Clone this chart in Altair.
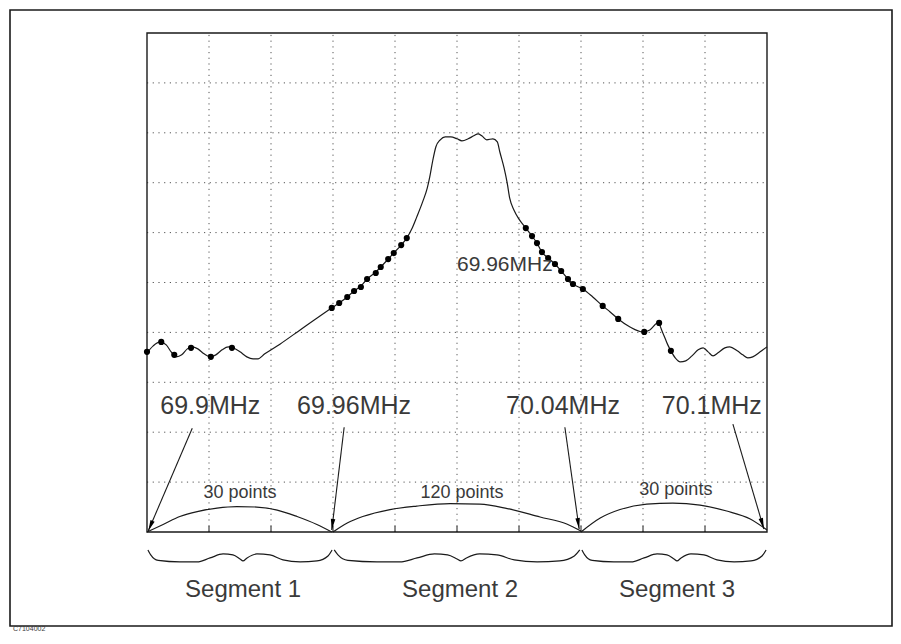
import math
import altair as alt
import pandas as pd

# ---------------- data (grid divisions: x 0..10, y 0..10) ----------------
trace_x = [0.00, 0.10, 0.21, 0.31, 0.39, 0.47, 0.56, 0.65, 0.73, 0.82, 0.92, 1.02, 1.11, 1.21,
           1.31, 1.39, 1.50, 1.61, 1.71, 1.79, 1.90, 2.15, 2.47, 2.79, 2.98, 3.10, 3.23, 3.34,
           3.45, 3.55, 3.69, 3.77, 3.89, 3.98, 4.10, 4.19, 4.27, 4.35, 4.45, 4.52, 4.56, 4.61,
           4.66, 4.73, 4.81, 4.90, 5.00, 5.08, 5.18, 5.27, 5.34, 5.40, 5.48, 5.58, 5.65, 5.69,
           5.76, 5.81, 5.85, 5.92, 6.00, 6.11, 6.21, 6.29, 6.37, 6.47, 6.58, 6.68, 6.79, 6.87,
           7.03, 7.19, 7.35, 7.47, 7.60, 7.79, 8.00, 8.11, 8.24, 8.32, 8.40, 8.45, 8.52, 8.60,
           8.69, 8.79, 8.89, 8.97, 9.05, 9.13, 9.21, 9.32, 9.40, 9.52, 9.61, 9.69, 9.77, 9.89, 10.00]
trace_y = [3.59, 3.73, 3.81, 3.75, 3.61, 3.51, 3.55, 3.67, 3.71, 3.67, 3.57, 3.51, 3.55, 3.65,
           3.71, 3.69, 3.61, 3.51, 3.47, 3.47, 3.57, 3.77, 4.05, 4.33, 4.49, 4.59, 4.71, 4.83,
           4.93, 5.07, 5.21, 5.31, 5.47, 5.59, 5.75, 5.89, 6.07, 6.31, 6.63, 6.89, 7.11, 7.45,
           7.72, 7.86, 7.92, 7.92, 7.88, 7.84, 7.88, 7.94, 7.98, 7.94, 7.86, 7.88, 7.82, 7.62,
           7.29, 6.99, 6.69, 6.45, 6.27, 6.09, 5.93, 5.79, 5.61, 5.49, 5.37, 5.23, 5.07, 4.97,
           4.87, 4.71, 4.53, 4.41, 4.27, 4.11, 4.01, 4.05, 4.19, 3.99, 3.75, 3.63, 3.49, 3.41,
           3.43, 3.53, 3.65, 3.69, 3.61, 3.53, 3.59, 3.69, 3.71, 3.63, 3.55, 3.49, 3.51, 3.61, 3.71]

dot_x = [0.00, 0.23, 0.44, 0.71, 1.03, 1.37,
         2.98, 3.10, 3.23, 3.34, 3.45, 3.55, 3.69, 3.77, 3.89, 3.98, 4.10, 4.19,
         6.11, 6.21, 6.29, 6.37, 6.47, 6.58, 6.68, 6.79, 6.87, 7.03,
         7.35, 7.60, 8.02, 8.26, 8.45]
dot_y = [3.61, 3.81, 3.55, 3.69, 3.51, 3.69,
         4.49, 4.59, 4.71, 4.83, 4.91, 5.07, 5.19, 5.31, 5.47, 5.59, 5.75, 5.89,
         6.09, 5.93, 5.79, 5.61, 5.49, 5.37, 5.23, 5.07, 4.97, 4.87,
         4.53, 4.27, 4.01, 4.19, 3.63]

seg_bounds = [0, 3, 7, 10]
freq_labels = ["69.9MHz", "69.96MHz", "70.04MHz", "70.1MHz"]
point_labels = ["30 points", "120 points", "30 points"]
segment_labels = ["Segment 1", "Segment 2", "Segment 3"]
marker_label = "69.96MHz"
doc_code = "C7104002"

arc_x = [[0.00, 0.26, 0.53, 0.81, 1.13, 1.45, 1.77, 2.10, 2.42, 2.74, 2.98],
         [3.00, 3.23, 3.48, 3.92, 4.35, 4.89, 5.37, 5.81, 6.34, 6.77, 7.00],
         [7.00, 7.31, 7.63, 8.06, 8.48, 8.92, 9.35, 9.73, 10.00]]
arc_y = [[0.00, 0.15, 0.31, 0.41, 0.48, 0.51, 0.50, 0.44, 0.31, 0.15, 0.00],
         [0.00, 0.18, 0.31, 0.45, 0.52, 0.57, 0.56, 0.47, 0.30, 0.16, 0.02],
         [0.00, 0.28, 0.45, 0.56, 0.58, 0.54, 0.42, 0.26, 0.04]]

brace_frac = [0.005, 0.02, 0.06, 0.177, 0.269, 0.339, 0.409, 0.462, 0.50, 0.516, 0.538,
              0.591, 0.661, 0.731, 0.823, 0.914, 0.973, 0.995]
brace_dy = [-0.36, -0.46, -0.57, -0.60, -0.60, -0.52, -0.44, -0.46, -0.54, -0.58, -0.52,
            -0.44, -0.46, -0.56, -0.60, -0.58, -0.48, -0.36]

arrow_from = [(0.73, 2.08), (3.18, 2.10), (6.74, 2.10), (9.45, 2.16)]
arrow_to = [(0.02, 0.02), (2.98, 0.04), (6.97, 0.06), (9.95, 0.06)]

# ---------------- layout ----------------
W, H = 885, 628
PXX, PXY = 62.0, 49.9          # pixels per division
X0, Y0 = 139.0, 524.0          # pixel position of the (0,0) division inside the chart
XDOM = [-X0 / PXX, (W - X0) / PXX]
YDOM = [-(H - Y0) / PXY, Y0 / PXY]

xs = alt.Scale(domain=XDOM, nice=False, zero=False)
ys = alt.Scale(domain=YDOM, nice=False, zero=False)
X = lambda f="x": alt.X(f"{f}:Q", scale=xs, axis=None)
Y = lambda f="y": alt.Y(f"{f}:Q", scale=ys, axis=None)

INK = "#1a1a1a"
FONT = "Liberation Sans"

layers = []

# outer frame
frame = pd.DataFrame({"x": [XDOM[0] + 2 / PXX], "x2": [XDOM[1] - 1 / PXX],
                      "y": [YDOM[1] - 2 / PXY], "y2": [YDOM[0] + 10 / PXY]})
layers.append(alt.Chart(frame).mark_rect(filled=False, stroke=INK, strokeWidth=1.6).encode(
    x=X(), x2="x2", y=Y(), y2="y2"))

# grid
vgrid = pd.DataFrame({"x": list(range(1, 10)), "y": [0] * 9, "y2": [10] * 9})
hgrid = pd.DataFrame({"y": list(range(1, 10)), "x": [0] * 9, "x2": [10] * 9})
layers.append(alt.Chart(vgrid).mark_rule(color="#555", strokeWidth=1, strokeDash=[1.2, 4.5]).encode(
    x=X(), y=Y(), y2="y2"))
layers.append(alt.Chart(hgrid).mark_rule(color="#555", strokeWidth=1, strokeDash=[1.2, 4.5]).encode(
    x=X(), x2="x2", y=Y()))

# plot frame
pf = pd.DataFrame({"x": [0], "x2": [10], "y": [0], "y2": [10]})
layers.append(alt.Chart(pf).mark_rect(filled=False, stroke=INK, strokeWidth=1.4).encode(
    x=X(), x2="x2", y=Y(), y2="y2"))

# ticks on base line
ticks = pd.DataFrame({"x": list(range(1, 10)), "y": [0] * 9, "y2": [0.12] * 9})
layers.append(alt.Chart(ticks).mark_rule(color=INK, strokeWidth=1).encode(x=X(), y=Y(), y2="y2"))

# trace
tr = pd.DataFrame({"x": trace_x, "y": trace_y, "o": range(len(trace_x))})
layers.append(alt.Chart(tr).mark_line(color=INK, strokeWidth=1.2, interpolate="monotone").encode(
    x=X(), y=Y(), order="o:Q"))
dots = pd.DataFrame({"x": dot_x, "y": dot_y})
layers.append(alt.Chart(dots).mark_circle(color="#000", size=38, opacity=1).encode(x=X(), y=Y()))

# arcs
rows = []
for i, (ax, ay) in enumerate(zip(arc_x, arc_y)):
    for j, (a, b) in enumerate(zip(ax, ay)):
        rows.append({"x": a, "y": b, "g": i, "o": j})
layers.append(alt.Chart(pd.DataFrame(rows)).mark_line(color=INK, strokeWidth=1.2, interpolate="monotone").encode(
    x=X(), y=Y(), detail="g:N", order="o:Q"))

# braces
rows = []
for i in range(3):
    a, b = seg_bounds[i], seg_bounds[i + 1]
    for j, (f, d) in enumerate(zip(brace_frac, brace_dy)):
        rows.append({"x": a + f * (b - a), "y": d, "g": i, "o": j})
layers.append(alt.Chart(pd.DataFrame(rows)).mark_line(color=INK, strokeWidth=1.2, interpolate="monotone").encode(
    x=X(), y=Y(), detail="g:N", order="o:Q"))

# arrows
arr = pd.DataFrame({"x": [p[0] for p in arrow_from], "y": [p[1] for p in arrow_from],
                    "x2": [p[0] for p in arrow_to], "y2": [p[1] for p in arrow_to]})
layers.append(alt.Chart(arr).mark_rule(color=INK, strokeWidth=1.1).encode(
    x=X(), y=Y(), x2="x2", y2="y2"))
heads = []
for (x1, y1), (x2, y2) in zip(arrow_from, arrow_to):
    dx = (x2 - x1) * PXX
    dy = -(y2 - y1) * PXY
    ang = math.degrees(math.atan2(-dx, dy)) % 360
    heads.append({"x": x2, "y": y2, "ang": ang})
layers.append(alt.Chart(pd.DataFrame(heads)).mark_point(
    shape="M0,0L-0.45,-2.2L0.45,-2.2Z", filled=True, color="#000", opacity=1, size=100).encode(
    x=X(), y=Y(), angle=alt.Angle("ang:Q", scale=None)))

# texts
def text_layer(df, size, **kw):
    return alt.Chart(df).mark_text(font=FONT, fontSize=size, color="#3a3a3a", **kw).encode(
        x=X(), y=Y(), text="t:N")

layers.append(text_layer(pd.DataFrame({"x": [1.02, 3.34, 6.71, 9.11], "y": [2.53] * 4,
                                       "t": freq_labels}), 25, align="center", baseline="middle"))
layers.append(text_layer(pd.DataFrame({"x": [5.0], "y": [5.35], "t": [marker_label]}), 21,
                         align="left", baseline="middle"))
layers.append(text_layer(pd.DataFrame({"x": [1.50, 5.08, 8.53], "y": [0.78, 0.78, 0.84],
                                       "t": point_labels}), 18, align="center", baseline="middle"))
layers.append(text_layer(pd.DataFrame({"x": [1.55, 5.05, 8.55], "y": [-1.16] * 3,
                                       "t": segment_labels}), 24, align="center", baseline="middle"))
layers.append(text_layer(pd.DataFrame({"x": [XDOM[0] + 5 / PXX], "y": [YDOM[0] + 4 / PXY],
                                       "t": [doc_code]}), 7, align="left", baseline="bottom"))

chart = alt.layer(*layers).properties(
    width=W, height=H, autosize=alt.AutoSizeParams(type="none"), padding=0
).configure_view(stroke=None)

chart.save("out.html", embed_options={"renderer": "svg", "actions": False})
